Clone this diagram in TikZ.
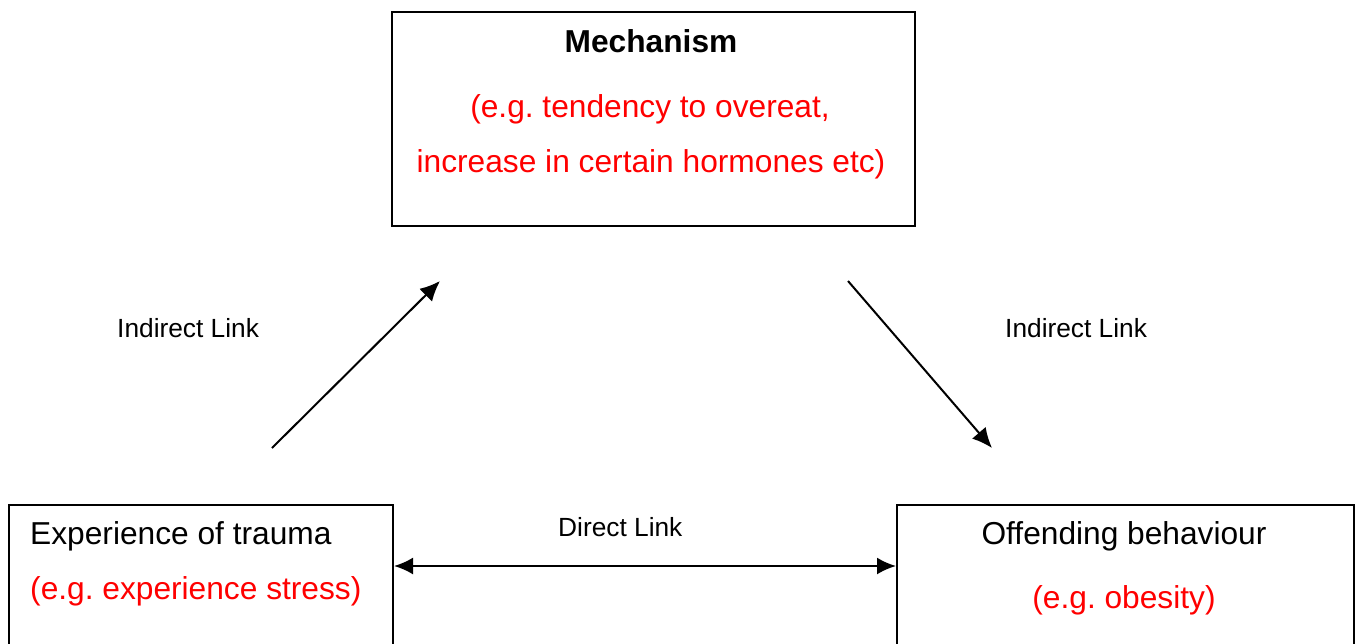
\documentclass[tikz,border=0pt]{standalone}
\usepackage{fontspec}
\setmainfont{Liberation Sans}
\usetikzlibrary{arrows.meta}
\frenchspacing
\begin{document}
\begin{tikzpicture}[x=1pt,y=-1pt,
  box/.style={draw=black,line width=2pt,rectangle,inner sep=0pt},
  big/.style={font=\fontsize{31.7}{38}\selectfont,inner sep=0pt},
  bigred/.style={big,text=red},
  small/.style={font=\fontsize{26.3}{31}\selectfont,inner sep=0pt},
  conn/.style={line width=2pt,-{Latex[length=20pt,width=18pt]}},
  dconn/.style={line width=2.2pt,{Latex[length=19pt,width=17pt]}-{Latex[length=19pt,width=17pt]}}]
\path[use as bounding box,clip] (0,0) rectangle (1357,643);
\fill[white] (0,0) rectangle (1357,643);
% boxes
\node[box,minimum width=523pt,minimum height=214pt,anchor=north west] (mech) at (391,11) {};
\node[box,minimum width=384pt,minimum height=200pt,anchor=north west] (trauma) at (8,504) {};
\node[box,minimum width=457pt,minimum height=200pt,anchor=north west] (offend) at (896,504) {};
% texts
\node[big,anchor=base,font=\fontsize{31.7}{38}\selectfont\bfseries] (mechT) at (651,52) {Mechanism};
\node[bigred,anchor=base] (mechR1) at (650,117) {(e.g. tendency to overeat,};
\node[bigred,anchor=base] (mechR2) at (651,172) {increase in certain hormones etc)};
\node[big,anchor=base west] (traumaT) at (30,544) {Experience of trauma};
\node[bigred,anchor=base west] (traumaR) at (30,599) {(e.g. experience stress)};
\node[big,anchor=base] (offT) at (1124,544) {Offending behaviour};
\node[bigred,anchor=base] (offR) at (1124,608) {(e.g. obesity)};
\node[small,anchor=base west] (ind1) at (117,337) {Indirect Link};
\node[small,anchor=base west] (ind2) at (1005,337) {Indirect Link};
\node[small,anchor=base west] (dir) at (558,536) {Direct Link};
% connectors
\coordinate (a1s) at (272,448);
\coordinate (a1e) at (440,281);
\coordinate (a2s) at (848,281);
\coordinate (a2e) at (992,448);
\draw[conn] (a1s) -- (a1e);
\draw[conn] (a2s) -- (a2e);
\draw[dconn] (trauma.east |- 0,566) -- (offend.west |- 0,566);
\end{tikzpicture}
\end{document}
